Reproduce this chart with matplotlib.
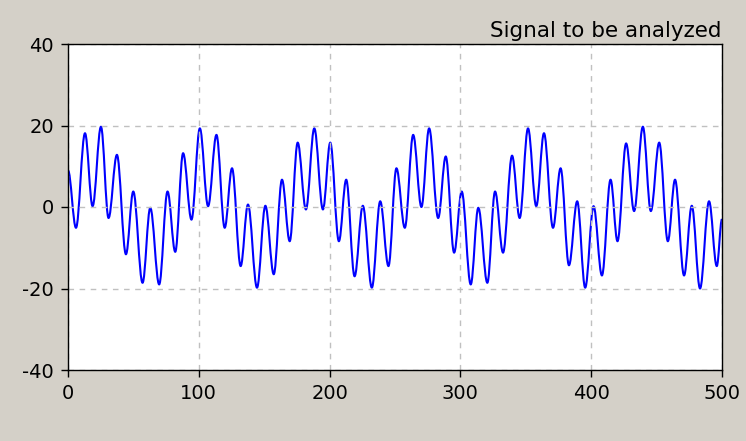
import matplotlib
matplotlib.use("Agg")
import matplotlib.pyplot as plt
from matplotlib.path import Path
from matplotlib.patches import PathPatch

# Sample index and value at each local extremum
t_pts = [0, 6.1, 13, 18.8, 25.2, 31, 37.4, 44.3, 49.9, 57, 62.9, 69.7, 76.1,
         82, 88, 94.4, 100.8, 107.1, 113.5, 119.8, 125.4, 132, 137.6, 144.5,
         150.9, 157.3, 163.6, 169.5, 175.6, 181.9, 188.3, 194.9, 200.5, 207.1,
         212.7, 219.1, 225.4, 232.3, 238.7, 245, 251.1, 257.5, 263.9, 270.2,
         276.1, 283, 288.8, 295.2, 301, 307.9, 313.7, 320.6, 326.5, 332.6,
         339.5, 345.3, 351.7, 358, 363.9, 370.8, 376.6, 383, 389.3, 395.4,
         401.8, 408.2, 414.8, 420.1, 426.7, 432.8, 439.5, 445.6, 452, 458.6,
         464.1, 471, 476.9, 483.2, 490.1, 496, 500]
v_pts = [9, -5.1, 18.1, 0.2, 19.7, -2.7, 12.8, -11.6, 3.8, -18.6, -0.2, -19,
         3.8, -11, 13.2, -3.1, 19.3, 0.2, 17.7, -5.1, 9.5, -14.5, 0.6, -19.8,
         0.3, -16.5, 6.7, -8.4, 15.8, -0.6, 19.3, -0.6, 15.8, -8.4, 6.7, -17,
         0.3, -19.8, 1.4, -14.5, 9.5, -5.1, 17.7, 0, 19.3, -2.7, 12.4, -11.2,
         3.8, -19, -0.2, -18.6, 3.8, -11.2, 12.6, -2.7, 19.3, 0.2, 18.1, -5.1,
         9.5, -14.3, 1.4, -19.8, 0.2, -16.8, 6.7, -8.4, 15.6, -1, 19.7, -1,
         15.8, -8.4, 6.7, -16.8, 0.3, -20, 1.4, -14.5, -3]

x_ticks = [0, 100, 200, 300, 400, 500]
y_ticks = [-40, -20, 0, 20, 40]
title = "Signal to be analyzed"

bg = "#D4D0C8"
fig = plt.figure(figsize=(7.46, 4.41), dpi=100, facecolor=bg)
ax = fig.add_axes([68/746, 1-370/441, (722-68)/746, (370-44)/441])
ax.set_facecolor("white")

# smooth curve through the extrema (horizontal tangents at each extremum)
verts = [(t_pts[0], v_pts[0])]
codes = [Path.MOVETO]
k = 0.364
for i in range(1, len(t_pts)):
    t0, v0, t1, v1 = t_pts[i-1], v_pts[i-1], t_pts[i], v_pts[i]
    dt = t1 - t0
    verts += [(t0 + k*dt, v0), (t1 - k*dt, v1), (t1, v1)]
    codes += [Path.CURVE4] * 3
ax.add_patch(PathPatch(Path(verts, codes), fill=False, edgecolor="#0000FF",
                       lw=1.5, joinstyle="round", clip_on=True))

ax.set_xlim(0, 500)
ax.set_ylim(-40, 40)
ax.set_xticks(x_ticks)
ax.set_yticks(y_ticks)
font = dict(family=["DejaVu Sans"], size=14)
ax.set_xticklabels([str(v) for v in x_ticks], **font)
ax.set_yticklabels([str(v) for v in y_ticks], **font)
ax.tick_params(direction="out", length=5, width=1, color="black")
ax.tick_params(axis="y", pad=5)
ax.tick_params(axis="x", pad=5)
ax.grid(True, color="#C0C0C0", linestyle=(0, (4, 4)), lw=1)
for s in ax.spines.values():
    s.set_color("black")
    s.set_linewidth(1)
ax.set_title(title, loc="right", pad=5, family=["DejaVu Sans"], size=15.5)
fig.savefig("out.png", dpi=100, facecolor=bg)
